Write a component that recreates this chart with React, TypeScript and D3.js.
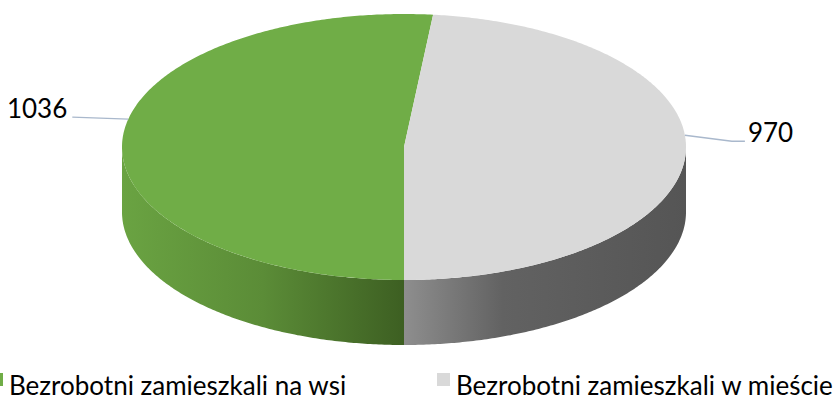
import React from 'react';
import * as d3 from 'd3';

const categories = ['Bezrobotni zamieszkali na wsi', 'Bezrobotni zamieszkali w mieście'];
const values = [1036, 970];
const valueLabels = ['1036', '970'];
const topColors = ['#70ad47', '#d9d9d9'];
const sideStops = [
  [
    { o: 0, c: '#6aa342' },
    { o: 0.5, c: '#5b8c37' },
    { o: 1, c: '#3d5f22' },
  ],
  [
    { o: 0, c: '#8e8e8e' },
    { o: 0.35, c: '#626262' },
    { o: 1, c: '#555555' },
  ],
];

export default function App() {
  const W = 835, H = 405;
  const cx = 404, cy = 147, rx = 282, ry = 133, depth = 65;
  const pie = d3.pie<number>().sort(null).startAngle(Math.PI).endAngle(3 * Math.PI);
  const arcs = pie(values);
  const pt = (a: number, dy = 0): [number, number] => [cx + rx * Math.sin(a), cy - ry * Math.cos(a) + dy];

  const arcPts = (a0: number, a1: number, dy = 0) => {
    const n = Math.max(2, Math.ceil(Math.abs(a1 - a0) / 0.01));
    const r: [number, number][] = [];
    for (let i = 0; i <= n; i++) r.push(pt(a0 + ((a1 - a0) * i) / n, dy));
    return r;
  };
  const line = d3.line();

  const topPath = (a0: number, a1: number) => line([[cx, cy], ...arcPts(a0, a1)])! + 'Z';

  const sidePaths = (a0: number, a1: number) => {
    const ranges = [[Math.PI / 2, 1.5 * Math.PI], [2.5 * Math.PI, 3.5 * Math.PI]];
    const out: string[] = [];
    for (const [r0, r1] of ranges) {
      const s = Math.max(a0, r0), e = Math.min(a1, r1);
      if (e > s) {
        out.push(line([...arcPts(s, e), ...arcPts(e, s, depth)])! + 'Z');
      }
    }
    return out;
  };

  // label anchors: mid angle nudged toward the back (perspective)
  const anchors = arcs.map((a) => {
    const mid = (a.startAngle + a.endAngle) / 2;
    const m = ((mid % (2 * Math.PI)) + 2 * Math.PI) % (2 * Math.PI);
    const nudge = m > Math.PI ? 0.16 : -0.14;
    return pt(mid + nudge);
  });

  const font = 'Lato, "Open Sans", sans-serif';

  return (
    <svg width={W} height={H} style={{ display: 'block', position: 'absolute', left: 0, top: 0 }}>
      <defs>
        {sideStops.map((stops, i) => (
          <linearGradient
            key={i}
            id={`side${i}`}
            gradientUnits="userSpaceOnUse"
            x1={i === 0 ? cx - rx : cx}
            x2={i === 0 ? cx : cx + rx}
            y1={0}
            y2={0}
          >
            {stops.map((s, j) => (
              <stop key={j} offset={s.o} stopColor={s.c} />
            ))}
          </linearGradient>
        ))}
      </defs>
      <rect width={W} height={H} fill="#ffffff" />
      {arcs.map((a, i) =>
        sidePaths(a.startAngle, a.endAngle).map((d, k) => (
          <path key={`s${i}-${k}`} d={d} fill={`url(#side${i})`} />
        ))
      )}
      {arcs.map((a, i) => (
        <path key={`t${i}`} d={topPath(a.startAngle, a.endAngle)} fill={topColors[i]} />
      ))}
      {/* leader lines and labels */}
      {(() => {
        const [ax, ay] = anchors[0];
        const pts: [number, number][] = [[ax, ay], [ax - 56, ay - 2]];
        return (
          <g>
            <path d={line(pts)!} fill="none" stroke="#a9b8cc" strokeWidth={1.3} />
            <text x={ax - 61} y={ay - 1} textAnchor="end" fontFamily={font} fontSize={26} fill="#000">
              {valueLabels[0]}
            </text>
          </g>
        );
      })()}
      {(() => {
        const [ax, ay] = anchors[1];
        const pts: [number, number][] = [[ax, ay], [ax + 47, ay + 6], [ax + 60, ay + 6]];
        return (
          <g>
            <path d={line(pts)!} fill="none" stroke="#a9b8cc" strokeWidth={1.3} />
            <text x={ax + 63} y={ay + 7} textAnchor="start" fontFamily={font} fontSize={26} fill="#000">
              {valueLabels[1]}
            </text>
          </g>
        );
      })()}
      {/* legend */}
      {categories.map((c, i) => {
        const x0 = i === 0 ? -10 : 437;
        return (
          <g key={c}>
            <rect x={x0} y={373} width={13} height={13} fill={topColors[i]} />
            <text x={x0 + 19} y={395} fontFamily={font} fontSize={26} fill="#000">
              {c}
            </text>
          </g>
        );
      })}
    </svg>
  );
}
